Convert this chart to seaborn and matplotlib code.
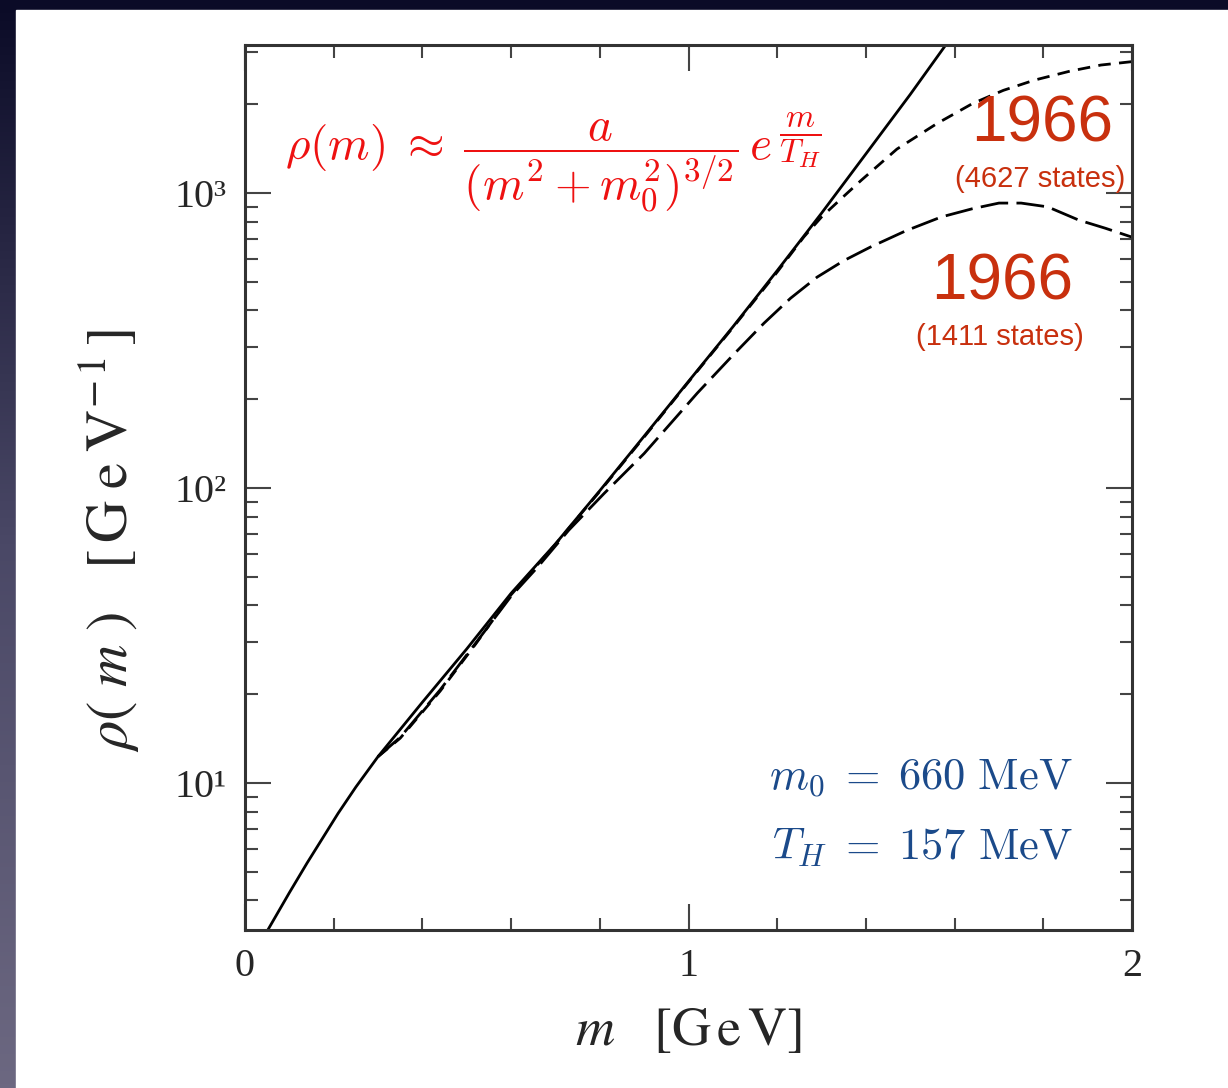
import matplotlib.pyplot as plt
import matplotlib.ticker as ticker
from matplotlib.colors import LinearSegmentedColormap
from matplotlib.patches import Rectangle
import numpy as np
import pandas as pd
import seaborn as sns

# curves (m in GeV, rho in GeV^-1)
solid_m = [0.05, 0.10, 0.14, 0.21, 0.25, 0.30, 0.40, 0.50, 0.60, 0.70, 0.80, 0.90, 1.00,
           1.10, 1.20, 1.30, 1.40, 1.50, 1.58, 1.60]
solid_rho = [3.15, 4.25, 5.36, 7.9, 9.7, 12.3, 18.8, 28.5, 44.0, 64.7, 98.0, 150, 230,
             352, 546, 855, 1358, 2160, 3177, 3530]

states4627_m = [0.30, 0.35, 0.44, 0.52, 0.60, 0.70, 0.80, 0.90, 1.00, 1.10, 1.20, 1.26,
                1.30, 1.35, 1.39, 1.47, 1.56, 1.64, 1.71, 1.78, 1.86, 1.93, 2.00]
states4627_rho = [12.3, 14.2, 20.5, 29.6, 43.5, 64.5, 97.5, 149, 229, 350, 540, 710,
                  830, 975, 1107, 1410, 1720, 2010, 2230, 2415, 2590, 2717, 2790]

states1411_m = [0.30, 0.35, 0.44, 0.52, 0.60, 0.66, 0.73, 0.81, 0.90, 1.02, 1.10, 1.17,
                1.23, 1.29, 1.35, 1.41, 1.49, 1.57, 1.64, 1.70, 1.75, 1.81, 1.88, 1.94, 2.00]
states1411_rho = [12.3, 14.3, 20.7, 29.8, 43.0, 54.0, 72.0, 96.0, 131, 210, 282, 362,
                  440, 519, 590, 656, 745, 830, 885, 925, 925, 898, 810, 760, 709]

ytick_vals = [10, 100, 1000]
ytick_labels = ["10¹", "10²", "10³"]
xtick_vals = [0, 1, 2]


def main():
    sns.set_style("ticks")
    plt.rcParams['font.family'] = ['Liberation Serif', 'DejaVu Serif']
    plt.rcParams['mathtext.fontset'] = 'stix'

    fig = plt.figure(figsize=(12.28, 10.88), dpi=100)

    # slide background: dark gradient frame with white page
    bg = fig.add_axes([0, 0, 1, 1], zorder=-10)
    cmap = LinearSegmentedColormap.from_list("slide", ["#0b0b27", "#4a4866", "#6c6881"])
    grad = np.linspace(0, 1, 256).reshape(-1, 1)
    bg.imshow(grad, aspect='auto', cmap=cmap, extent=[0, 1, 0, 1], origin='upper')
    bg.add_patch(Rectangle((16 / 1228, 0), 1, 1 - 10 / 1088, color='white'))
    bg.set_xlim(0, 1)
    bg.set_ylim(0, 1)
    bg.axis('off')

    ax = fig.add_axes([245 / 1228, 158 / 1088, 887 / 1228, 885 / 1088])

    df_solid = pd.DataFrame({'m': solid_m, 'rho': solid_rho})
    df_a = pd.DataFrame({'m': states4627_m, 'rho': states4627_rho})
    df_b = pd.DataFrame({'m': states1411_m, 'rho': states1411_rho})

    sns.lineplot(x='m', y='rho', data=df_solid, ax=ax, color='black', linewidth=2.0)
    sns.lineplot(x='m', y='rho', data=df_a, ax=ax, color='black', linewidth=2.0,
                 linestyle=(0, (4.5, 3)))
    sns.lineplot(x='m', y='rho', data=df_b, ax=ax, color='black', linewidth=2.0,
                 linestyle=(0, (10, 3)))

    ax.set_yscale('log')
    ax.set_xlim(0, 2)
    ax.set_ylim(10 ** 0.502, 10 ** 3.502)

    ax.set_xticks(xtick_vals)
    ax.set_xticklabels([str(v) for v in xtick_vals])
    ax.xaxis.set_minor_locator(ticker.MultipleLocator(0.2))
    ax.set_yticks(ytick_vals)
    ax.set_yticklabels(ytick_labels)
    ax.yaxis.set_minor_locator(ticker.LogLocator(base=10, subs=np.arange(2, 10)))
    ax.yaxis.set_minor_formatter(ticker.NullFormatter())

    ax.tick_params(which='both', direction='in', top=True, right=True, color='#444444')
    ax.tick_params(which='major', length=19, width=1.5, labelsize=29, pad=13)
    ax.tick_params(which='minor', length=9, width=1.5)
    for sp in ax.spines.values():
        sp.set_linewidth(2.2)
        sp.set_color('#333333')

    ax.set_xlabel('')
    ax.set_ylabel('')
    fig.text(688 / 1228, 1 - 1032 / 1088, r'$m\ \ \ [\mathrm{G\,e\,V}]$', ha='center',
             va='center', fontsize=39)
    fig.text(110 / 1228, 1 - 540 / 1088,
             r'$\rho(\ m\ )\ \ \ [\,\mathrm{G\;e\;V}^{-\,1}\,]$', ha='center',
             va='center', rotation=90, fontsize=42)

    # formula and parameters
    fig.text(285 / 1228, 1 - 163 / 1088,
             r'$\rho(m)\;\approx\;\dfrac{a}{(m^2+m_0^2)^{3/2}}\,e^{\,\dfrac{m}{T_H}}$',
             ha='left', va='center', fontsize=34, color='#ee1111', math_fontfamily='cm')
    fig.text(1073 / 1228, 1 - 778 / 1088, r'$m_0\;=\;660\ \mathrm{MeV}$', ha='right',
             va='center', fontsize=32, color='#1b4a8a', math_fontfamily='cm')
    fig.text(1073 / 1228, 1 - 848 / 1088, r'$T_H\;=\;157\ \mathrm{MeV}$', ha='right',
             va='center', fontsize=32, color='#1b4a8a', math_fontfamily='cm')

    red = '#c8300e'
    fig.text(1042 / 1228, 1 - 125 / 1088, '1966', ha='center', va='center', fontsize=46,
             color=red, family=['Liberation Sans'])
    fig.text(1040 / 1228, 1 - 179 / 1088, '(4627 states)', ha='center', va='center',
             fontsize=21, color=red, family=['Liberation Sans'])
    fig.text(1002 / 1228, 1 - 282 / 1088, '1966', ha='center', va='center', fontsize=46,
             color=red, family=['Liberation Sans'])
    fig.text(1000 / 1228, 1 - 337 / 1088, '(1411 states)', ha='center', va='center',
             fontsize=21, color=red, family=['Liberation Sans'])

    plt.savefig('out.png', dpi=100)


if __name__ == "__main__":
    main()
